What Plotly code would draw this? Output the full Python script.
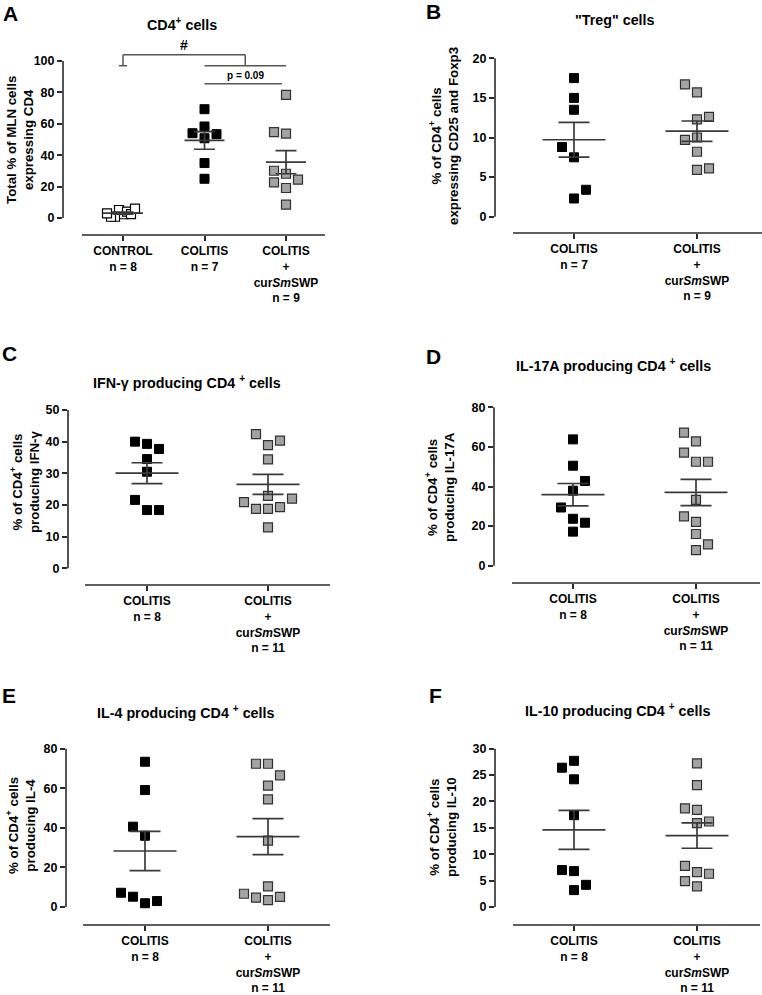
import plotly.graph_objects as go

# ---------------- data ----------------
A_control = [2.4, 5.1, 4.0, 0.8, 2.5, 0.8, 6.0, 3.0]
A_colitis = [69.3, 58.3, 50.8, 35.0, 25.0, 54.0, 53.4]
A_cur = [78.4, 53.8, 54.7, 28.2, 19.1, 8.5, 24.4, 30.1, 22.7]

B_colitis = [17.5, 15.0, 13.5, 7.5, 2.3, 8.8, 3.4]
B_cur = [15.7, 12.3, 10.0, 8.2, 16.7, 12.6, 9.7, 5.9, 6.1]

C_colitis = [39.3, 40.0, 37.7, 34.5, 30.5, 18.4, 21.6, 18.4]
C_cur = [38.9, 34.4, 22.9, 18.8, 12.9, 42.4, 40.3, 18.8, 19.3, 20.9, 22.0]

D_colitis = [63.8, 50.5, 37.9, 23.7, 17.2, 29.4, 42.8, 21.7]
D_cur = [62.8, 52.5, 33.2, 22.1, 16.0, 7.9, 67.2, 52.5, 57.1, 24.9, 10.8]

E_colitis = [73.4, 59.1, 36.0, 1.9, 40.6, 3.0, 5.2, 7.2]
E_cur = [72.4, 61.3, 54.4, 33.5, 10.4, 3.5, 72.4, 66.5, 4.7, 5.1, 6.7]

F_colitis = [27.7, 24.2, 17.4, 6.8, 3.2, 26.4, 4.2, 7.0]
F_cur = [27.2, 23.1, 18.4, 15.9, 6.6, 3.9, 18.7, 16.2, 7.8, 6.3, 4.9]

lab_control8 = "CONTROL<br>n = 8"
lab_colitis7 = "COLITIS<br>n = 7"
lab_colitis8 = "COLITIS<br>n = 8"
lab_cur9 = "COLITIS<br>+<br>cur<i>Sm</i>SWP<br>n = 9"
lab_cur11 = "COLITIS<br>+<br>cur<i>Sm</i>SWP<br>n = 11"

titles = {
    "A": "CD4<sup>+</sup> cells",
    "B": "\"Treg\" cells",
    "C": "IFN-γ producing CD4 <sup>+</sup> cells",
    "D": "IL-17A producing CD4 <sup>+</sup> cells",
    "E": "IL-4 producing CD4 <sup>+</sup> cells",
    "F": "IL-10 producing CD4 <sup>+</sup> cells",
}
ytitles = {
    "A": "Total % of MLN cells<br>expressing CD4",
    "B": "% of CD4<sup>+</sup> cells<br>expressing CD25 and Foxp3",
    "C": "% of CD4<sup>+</sup> cells<br>producing IFN-γ",
    "D": "% of CD4<sup>+</sup> cells<br>producing IL-17A",
    "E": "% of CD4<sup>+</sup> cells<br>producing IL-4",
    "F": "% of CD4<sup>+</sup> cells<br>producing IL-10",
}

# ---------------- styles / layout geometry (pixels) ----------------
W, H = 762, 995
FONT = "Liberation Sans, Arial, sans-serif"
AX = "#2a2a2a"
MEANC = "#3a3a3a"
WHITE_STYLE = dict(color="white", line=dict(color="black", width=1.2))
BLACK_STYLE = dict(color="black", line=dict(color="black", width=1))
GRAY_STYLE = dict(color="#a3a3a3", line=dict(color="#303030", width=1.2))

panels = [
    dict(key="A", groups=[(A_control, WHITE_STYLE, 4), (A_colitis, BLACK_STYLE, 12), (A_cur, GRAY_STYLE, 12)],
         labels=[lab_control8, lab_colitis7, lab_cur9],
         yx=63, y0=218, ym=61, ymax=100, dt=20, xl=235, xs=82, xe=325, ticks=[123, 205, 286], top=38,
         meanw=40, capw=10.5, letter=(10, 13), title=(182, 24), ytitle=(20, 140)),
    dict(key="B", groups=[(B_colitis, BLACK_STYLE, 12), (B_cur, GRAY_STYLE, 12)],
         labels=[lab_colitis7, lab_cur9],
         yx=495, y0=216.7, ym=58.3, ymax=20, dt=5, xl=233, xs=513, xe=762, ticks=[574, 697], top=40,
         meanw=63, capw=15.5, letter=(433, 12), title=(615, 20), ytitle=(444, 136)),
    dict(key="C", groups=[(C_colitis, BLACK_STYLE, 12), (C_cur, GRAY_STYLE, 12)],
         labels=[lab_colitis8, lab_cur11],
         yx=68, y0=568.3, ym=410, ymax=50, dt=10, xl=585, xs=85, xe=330, ticks=[147, 268], top=398,
         meanw=63, capw=15.5, letter=(9, 353), title=(187, 382), ytitle=(25, 482)),
    dict(key="D", groups=[(D_colitis, BLACK_STYLE, 12), (D_cur, GRAY_STYLE, 12)],
         labels=[lab_colitis8, lab_cur11],
         yx=494, y0=565.7, ym=407.3, ymax=80, dt=20, xl=583, xs=512, xe=760, ticks=[573, 696], top=396,
         meanw=63, capw=15.5, letter=(433, 356), title=(613, 365), ytitle=(440, 487)),
    dict(key="E", groups=[(E_colitis, BLACK_STYLE, 12), (E_cur, GRAY_STYLE, 12)],
         labels=[lab_colitis8, lab_cur11],
         yx=66, y0=907, ym=748.7, ymax=80, dt=20, xl=925, xs=83, xe=330, ticks=[145, 268], top=737,
         meanw=63, capw=15.5, letter=(9, 695), title=(185, 712), ytitle=(21, 826)),
    dict(key="F", groups=[(F_colitis, BLACK_STYLE, 12), (F_cur, GRAY_STYLE, 12)],
         labels=[lab_colitis8, lab_cur11],
         yx=495, y0=907, ym=748.7, ymax=30, dt=5, xl=925, xs=513, xe=760, ticks=[574, 697], top=737,
         meanw=63, capw=15.5, letter=(435, 695), title=(617, 710), ytitle=(442, 827)),
]


def swarm(vals, ppu, thr=11.5):
    """Simple beeswarm: slot index per value (least crowded side first)."""
    placed, slots = [], []
    for v in vals:
        y = v * ppu
        k = 0
        while True:
            cands = [0] if k == 0 else [-k, k]
            best, bestd = None, -1.0
            for s in cands:
                ds = [abs(y - py) for (ps, py) in placed if ps == s]
                dmin = min(ds) if ds else float("inf")
                if dmin >= thr and dmin > bestd:
                    best, bestd = s, dmin
            if best is not None:
                break
            k += 1
        placed.append((best, y))
        slots.append(best)
    return slots


def mean_sem(vals):
    n = len(vals)
    m = sum(vals) / n
    sd = (sum((v - m) ** 2 for v in vals) / (n - 1)) ** 0.5
    return m, sd / n ** 0.5


def px(x):
    return x / W


def py(y):
    return 1 - y / H


fig = go.Figure()
layout = dict(width=W, height=H, margin=dict(l=0, r=0, t=0, b=0), paper_bgcolor="white",
              plot_bgcolor="white", showlegend=False)
shapes, annotations = [], []

for i, p in enumerate(panels, start=1):
    xa, ya = f"x{i}", f"y{i}"
    n = len(p["groups"])
    sp = (p["ticks"][-1] - p["ticks"][0]) / (n - 1)
    xr = [1 - (p["ticks"][0] - p["yx"]) / sp, n + (p["xe"] - p["ticks"][-1]) / sp]
    ppu = (p["y0"] - p["ym"]) / p["ymax"]
    yr = [-(p["xl"] - p["y0"]) / ppu, p["ymax"] + (p["ym"] - p["top"]) / ppu]

    for gi, (vals, style, step) in enumerate(p["groups"], start=1):
        slots = swarm(vals, ppu)
        xs = [gi + s * step / sp for s in slots]
        fig.add_trace(go.Scatter(x=xs, y=vals, mode="markers", xaxis=xa, yaxis=ya,
                                 marker=dict(symbol="square", size=9, **style),
                                 hoverinfo="y"))
    for gi, (vals, style, step) in enumerate(p["groups"], start=1):
        m, se = mean_sem(vals)
        fig.add_trace(go.Scatter(x=[gi], y=[m], mode="markers", xaxis=xa, yaxis=ya,
                                 marker=dict(symbol="line-ew", size=p["meanw"] / 1.4,
                                             line=dict(color=MEANC, width=1.7)),
                                 error_y=dict(type="data", array=[se], visible=True, color=MEANC,
                                              thickness=1.7, width=p["capw"]),
                                 hoverinfo="y"))

    layout[f"xaxis{i}"] = dict(domain=[px(p["yx"]), px(p["xe"])], range=xr, anchor=ya,
                               showgrid=False, zeroline=False, showline=False,
                               tickmode="array", tickvals=list(range(1, n + 1)), ticktext=p["labels"],
                               ticks="outside", ticklen=5, tickwidth=1.5, tickcolor=AX,
                               tickfont=dict(family=FONT, size=12, color="black", weight="bold"),
                               fixedrange=True)
    layout[f"yaxis{i}"] = dict(domain=[py(p["xl"]), py(p["top"])], range=yr, anchor=xa,
                               showgrid=False, zeroline=False, showline=False,
                               tickmode="array",
                               tickvals=[k * p["dt"] for k in range(int(round(p["ymax"] / p["dt"])) + 1)],
                               ticks="outside", ticklen=5, tickwidth=1.5, tickcolor=AX,
                               tickfont=dict(family=FONT, size=12.5, color="black", weight="bold"),
                               fixedrange=True)
    # GraphPad-style detached axis lines
    shapes.append(dict(type="line", xref="paper", yref="paper", x0=px(p["yx"]), x1=px(p["yx"]),
                       y0=py(p["y0"]), y1=py(p["ym"]), line=dict(color=AX, width=1.6)))
    shapes.append(dict(type="line", xref="paper", yref="paper", x0=px(p["xs"]), x1=px(p["xe"]),
                       y0=py(p["xl"]), y1=py(p["xl"]), line=dict(color=AX, width=1.6)))

    annotations.append(dict(text=f"<b>{p['key']}</b>", x=px(p["letter"][0]), y=py(p["letter"][1]),
                            xref="paper", yref="paper", showarrow=False, xanchor="center",
                            yanchor="middle", font=dict(family=FONT, size=21, color="black")))
    annotations.append(dict(text=titles[p["key"]], x=px(p["title"][0]), y=py(p["title"][1]),
                            xref="paper", yref="paper", showarrow=False, xanchor="center",
                            yanchor="middle", font=dict(family=FONT, size=14.3, color="black", weight="bold")))
    annotations.append(dict(text=ytitles[p["key"]], x=px(p["ytitle"][0]), y=py(p["ytitle"][1]),
                            xref="paper", yref="paper", showarrow=False, xanchor="center",
                            yanchor="middle", textangle=-90,
                            font=dict(family=FONT, size=13.3, color="black", weight="bold")))

# significance brackets in panel A (data coordinates)
BR = "#555555"
for (x0, y0, x1, y1) in [(0.95, 97, 1.05, 97), (1, 97, 1, 104), (1, 104, 2.5, 104), (2.5, 104, 2.5, 97),
                         (2, 97, 3, 97), (2, 85.5, 2.95, 85.5)]:
    shapes.append(dict(type="line", xref="x1", yref="y1", x0=x0, y0=y0, x1=x1, y1=y1,
                       line=dict(color=BR, width=1.5)))
annotations.append(dict(text="#", x=1.75, y=110, xref="x1", yref="y1", showarrow=False,
                        font=dict(family=FONT, size=14, color="black", weight="bold")))
annotations.append(dict(text="p = 0.09", x=2.5, y=91, xref="x1", yref="y1", showarrow=False,
                        font=dict(family=FONT, size=10, color="black", weight="bold")))

layout["shapes"] = shapes
layout["annotations"] = annotations
fig.update_layout(**layout)
fig.write_html("out.html", config={"displayModeBar": False},
               post_script="document.body.style.margin='0';document.body.style.padding='0';")
